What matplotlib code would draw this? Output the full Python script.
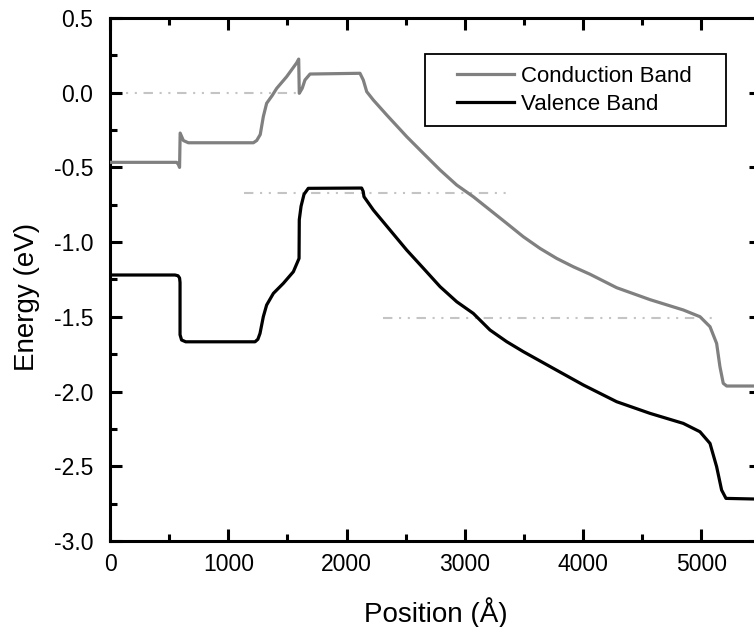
# coding:utf-8
"""
band diagram (conduction / valence band vs position)
"""

import matplotlib
matplotlib.use("Agg")
import matplotlib.pyplot as plt
from matplotlib.lines import Line2D
from matplotlib.legend_handler import HandlerLine2D
from matplotlib.ticker import MultipleLocator

plt.rcParams['font.family'] = ['Liberation Sans', 'DejaVu Sans']

# 伝導帯
cb_x = [0, 563, 578, 588, 593, 620, 662, 1212, 1240, 1270, 1296, 1324, 1370, 1409,
        1493, 1578, 1595, 1600, 1625, 1648, 1691, 2113, 2141, 2170, 2226, 2339, 2451,
        2508, 2649, 2790, 2931, 3071, 3212, 3353, 3494, 3635, 3776, 3917, 4058, 4283,
        4565, 4846, 4987, 5072, 5128, 5156, 5184, 5213, 5500]
cb_e = [-0.466, -0.466, -0.48, -0.50, -0.27, -0.32, -0.335, -0.335, -0.32, -0.28, -0.16,
        -0.071, -0.02, 0.029, 0.107, 0.200, 0.225, -0.004, 0.03, 0.085, 0.125, 0.13,
        0.085, 0.007, -0.049, -0.149, -0.245, -0.294, -0.406, -0.517, -0.618, -0.696,
        -0.785, -0.874, -0.964, -1.042, -1.109, -1.165, -1.215, -1.305, -1.385, -1.454,
        -1.499, -1.566, -1.678, -1.834, -1.945, -1.963, -1.963]

# 価電子帯
vb_x = [0, 549, 575, 588, 592, 592, 605, 640, 1226, 1250, 1268, 1296, 1324, 1381, 1465,
        1550, 1598, 1600, 1615, 1640, 1676, 2127, 2140, 2147, 2226, 2367, 2508, 2649,
        2790, 2931, 3071, 3212, 3353, 3494, 3748, 4001, 4283, 4565, 4846, 4987, 5072,
        5128, 5170, 5207, 5500]
vb_e = [-1.22, -1.22, -1.225, -1.24, -1.27, -1.62, -1.655, -1.667, -1.667, -1.65, -1.611,
        -1.499, -1.421, -1.343, -1.276, -1.198, -1.109, -0.85, -0.76, -0.68, -0.64,
        -0.638, -0.66, -0.696, -0.785, -0.919, -1.053, -1.175, -1.298, -1.399, -1.477,
        -1.588, -1.666, -1.733, -1.845, -1.956, -2.068, -2.146, -2.213, -2.269, -2.347,
        -2.503, -2.659, -2.715, -2.72]

# 補助線(フェルミ準位など)
ref_level = [0.0, -0.67, -1.51]
ref_start = [0, 1130, 2310]
ref_end = [1590, 3360, 5100]

fig = plt.figure(figsize=(7.54, 6.27), dpi=100)
ax = fig.add_axes([0.1459, 0.1372, 0.8629, 0.8341])

ax.hlines(ref_level, ref_start, ref_end, colors='#c4c4c4', linewidth=1.5,
          linestyles=[(0, (4.5, 3.2, 1, 3.2, 1, 3.2))], zorder=1)
ax.plot(cb_x, cb_e, color='#808080', linewidth=2.3, label='Conduction Band', zorder=3)
ax.plot(vb_x, vb_e, color='black', linewidth=2.3, label='Valence Band', zorder=3)

ax.set_xlim(0, 5500)
ax.set_ylim(-3.0, 0.5)
ax.xaxis.set_major_locator(MultipleLocator(1000))
ax.xaxis.set_minor_locator(MultipleLocator(500))
ax.yaxis.set_major_locator(MultipleLocator(0.5))
ax.yaxis.set_minor_locator(MultipleLocator(0.25))
ax.yaxis.set_major_formatter(plt.FuncFormatter(lambda v, p: "{:.1f}".format(v)))

for s in ax.spines.values():
    s.set_linewidth(2.2)
ax.tick_params(which='both', direction='in', top=True, right=True, width=2.2,
               labelsize=16.5)
ax.tick_params(which='major', length=8.5)
ax.tick_params(which='minor', length=5)
ax.tick_params(axis='x', pad=9)
ax.tick_params(axis='y', pad=12)

ax.set_xlabel("Position (Å)", fontsize=20)
ax.set_ylabel("Energy (eV)", fontsize=20)
ax.xaxis.set_label_coords(0.5, -0.107)
ax.yaxis.set_label_coords(-0.108, 0.467)

# 凡例 (枠を広めに、線の左に余白)
leg = ax.legend(loc='upper left', bbox_to_anchor=(0.484, 0.5, 0.4627, 0.431),
                mode='expand', borderaxespad=0, fontsize=16, handlelength=3.5,
                handletextpad=0.3, labelspacing=0.3, borderpad=0.53,
                fancybox=False, framealpha=1, edgecolor='black',
                handler_map={Line2D: HandlerLine2D(xpad=0.9)})
leg.get_frame().set_linewidth(1.3)

fig.savefig("out.png", dpi=100)
